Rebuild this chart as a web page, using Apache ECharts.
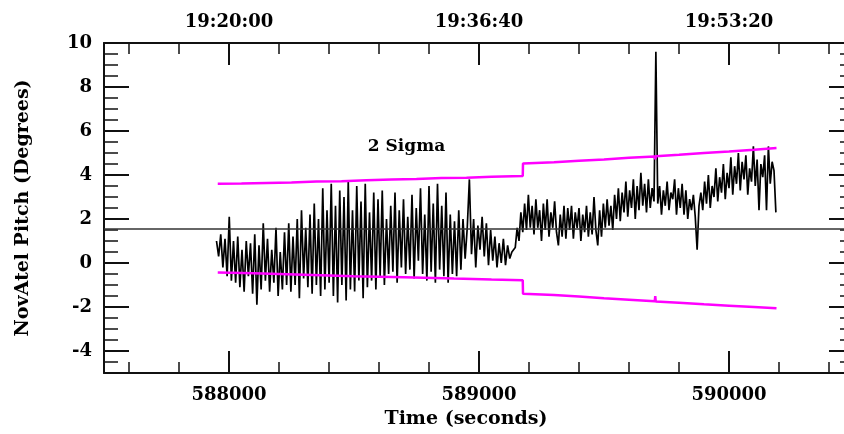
<!DOCTYPE html>
<html>
<head>
<meta charset="utf-8">
<style>html,body{margin:0;padding:0;background:#fff}#c{width:844px;height:434px}</style>
<script src="https://cdn.jsdelivr.net/npm/echarts@6/dist/echarts.min.js"></script>
</head>
<body>
<div id="c"></div>
<script>
// ---- data ----
const xMin = 587500, xMax = 590500;
const yMin = -5, yMax = 10;
const bottomTickValues = [588000, 589000, 590000];
const topTickLabels = ['19:20:00', '19:36:40', '19:53:20'];
const yTickValues = [-4, -2, 0, 2, 4, 6, 8, 10];

// pitch, first part: samples every 8.5 s from 587950 s
const pitchAStart = 587950, pitchAStep = 8.5;
const pitchA = [
  1.0, 0.3, 1.3, -0.2, 1.1, -0.6, 2.1, -0.8, 1.0, -0.9,
  1.2, -1.1, 0.6, -1.3, 1.0, -0.6, 0.9, -1.4, 1.3, -1.9,
  0.8, -1.2, 1.8, -0.8, 1.1, -1.3, 0.6, -0.9, 1.6, -1.5,
  0.5, -1.2, 1.4, -1.0, 1.8, -1.3, 1.2, -1.0, 2.0, -1.6,
  2.4, -0.7, 1.6, -1.1, 2.2, -1.4, 2.7, -1.0, 2.0, -1.5,
  3.4, -1.2, 2.4, -0.9, 3.6, -1.5, 2.6, -1.8, 3.3, -1.0,
  3.0, -1.7, 3.7, -1.2, 2.4, -1.3, 3.5, -0.8, 2.8, -1.6,
  3.6, -1.1, 2.3, -0.8, 3.2, -1.2, 2.9, -0.6, 3.3, -1.0,
  2.0, -0.5, 2.6, -0.4, 3.2, -0.9, 2.4, -0.2, 2.9, -0.5,
  2.1, -0.3, 3.1, -0.7, 2.5, 0.1, 3.4, -0.5, 2.2, -0.8,
  3.5, -0.4, 2.7, -0.9, 3.6, -0.3, 2.6, -0.6, 3.2, -0.9,
  2.2, -0.5, 1.9, -0.6, 2.4, -0.3, 2.0, 0.2, 1.6, 3.8,
  0.4, 2.0, -0.2, 1.7, 0.6, 2.1, 0.3, 1.8, -0.1, 1.5,
  0.1, 1.2, -0.2, 0.9, 0.0, 1.1, -0.1, 0.8, 0.2, 0.5
];
// pitch, second part: samples every 7.5 s from 589145 s
const pitchBStart = 589145, pitchBStep = 7.5;
const pitchB = [
  0.7, 1.6, 1.0, 2.3, 1.4, 2.7, 1.5, 3.1, 1.6, 2.6,
  1.3, 2.9, 1.6, 2.4, 1.0, 2.7, 1.5, 2.9, 1.2, 2.3,
  1.6, 2.8, 1.4, 0.8, 2.2, 1.2, 2.6, 1.1, 2.5, 1.5,
  2.6, 1.1, 2.3, 1.6, 2.5, 1.0, 2.2, 1.4, 2.6, 1.2,
  2.3, 1.3, 3.0, 1.5, 0.8, 2.4, 1.2, 2.7, 1.6, 2.9,
  1.7, 2.6, 1.5, 3.1, 2.0, 3.4, 1.9, 3.2, 2.3, 3.7,
  2.1, 3.3, 2.5, 3.8, 2.0, 3.5, 2.4, 4.1, 2.6, 3.6,
  2.3, 3.8, 2.5, 3.4, 2.8, 9.6, 2.7, 3.5, 2.2, 3.3,
  2.6, 3.7, 2.4, 3.2, 2.9, 3.8, 2.2, 3.4, 2.5, 3.6,
  2.2, 3.3, 2.0, 2.9, 2.4, 3.1, 2.1, 0.6, 2.6, 3.2,
  2.4, 3.7, 2.7, 4.0, 2.5, 3.5, 3.0, 4.3, 2.8, 3.9,
  3.2, 4.5, 2.9, 4.1, 3.4, 4.8, 3.1, 4.4, 3.6, 5.0,
  3.3, 4.6, 3.8, 4.9, 3.1, 4.3, 3.7, 5.3, 3.5, 4.7,
  2.4, 4.5, 3.9, 4.9, 2.4, 5.3, 3.6, 4.6, 4.2, 2.3
];

// 2-sigma bounds (time, value)
const upperBefore = [[587955,3.60],[588050,3.61],[588150,3.64],[588250,3.66],[588350,3.70],[588450,3.72],[588550,3.76],[588650,3.79],[588750,3.82],[588850,3.86],[588950,3.88],[589050,3.92],[589175,3.95]];
const upperAfter  = [[589176,4.52],[589300,4.58],[589400,4.65],[589500,4.71],[589600,4.78],[589703,4.84],[589705,4.72],[589707,4.85],[589800,4.92],[589900,5.00],[590000,5.07],[590100,5.15],[590190,5.23]];
const lowerBefore = [[587955,-0.43],[588100,-0.47],[588300,-0.53],[588500,-0.60],[588700,-0.65],[588900,-0.71],[589050,-0.75],[589175,-0.78]];
const lowerAfter  = [[589176,-1.40],[589300,-1.46],[589400,-1.52],[589500,-1.60],[589600,-1.67],[589703,-1.74],[589705,-1.50],[589707,-1.75],[589800,-1.81],[589900,-1.88],[590000,-1.94],[590100,-2.00],[590190,-2.06]];

const meanLevel = 1.56;
const annotationText = '2 Sigma';
const annotationAt = [588710, 5.3];

// ---- chart ----
const pitchData = pitchA.map((v, i) => [pitchAStart + i * pitchAStep, v])
  .concat(pitchB.map((v, i) => [pitchBStart + i * pitchBStep, v]));
const upperData = upperBefore.concat(upperAfter);
const lowerData = lowerBefore.concat(lowerAfter);

const xMinor = []; for (let v = 587600; v <= xMax; v += 200) xMinor.push(v);
const yMinor = []; for (let v = yMin; v <= yMax; v += 0.5) yMinor.push(v);

const FONT = 'DejaVu Serif';
const AX = '#111';
const labelStyle = { fontFamily: FONT, fontWeight: 'bold', fontSize: 18, color: '#000' };

function xAx(pos, major, extra) {
  return Object.assign({
    type: 'value', position: pos, min: xMin, max: xMax, gridIndex: 0,
    axisLine: { show: major, onZero: false, lineStyle: { color: AX, width: 2 } },
    axisTick: { show: true, inside: true, customValues: major ? bottomTickValues : xMinor,
      length: major ? 22 : 11, lineStyle: { color: AX, width: major ? 2 : 1.5 } },
    axisLabel: { show: false },
    splitLine: { show: false }
  }, extra || {});
}
function yAx(pos, major, extra) {
  return Object.assign({
    type: 'value', position: pos, min: yMin, max: yMax, gridIndex: 0,
    axisLine: { show: major, onZero: false, lineStyle: { color: AX, width: 2 } },
    axisTick: { show: true, inside: true, customValues: major ? yTickValues : yMinor,
      length: major ? 25 : 14, lineStyle: { color: AX, width: major ? 2 : 1.5 } },
    axisLabel: { show: false },
    splitLine: { show: false }
  }, extra || {});
}

const chart = echarts.init(document.getElementById('c'), null, { renderer: 'canvas' });
chart.setOption({
  animation: false,
  backgroundColor: '#fff',
  grid: { left: 104, right: -10, top: 43, bottom: 61, containLabel: false, outerBoundsMode: 'none' },
  xAxis: [
    xAx('bottom', true, {
      axisLabel: Object.assign({ show: true, margin: 13, customValues: bottomTickValues,
        formatter: v => String(v) }, labelStyle),
      name: 'Time (seconds)', nameLocation: 'middle', nameGap: 37,
      nameTextStyle: { fontFamily: FONT, fontWeight: 'bold', fontSize: 19, color: '#000', padding: [0, 26, 0, 0] }
    }),
    xAx('bottom', false),
    xAx('top', true, {
      axisLabel: Object.assign({ show: true, margin: 12, customValues: bottomTickValues,
        formatter: v => topTickLabels[bottomTickValues.indexOf(v)] || '' }, labelStyle)
    }),
    xAx('top', false)
  ],
  yAxis: [
    yAx('left', true, {
      axisLabel: Object.assign({ show: true, margin: 12, customValues: yTickValues,
        formatter: v => String(v) }, labelStyle),
      name: 'NovAtel Pitch (Degrees)', nameLocation: 'middle', nameGap: 71, nameRotate: 90,
      nameTextStyle: { fontFamily: FONT, fontWeight: 'bold', fontSize: 19, color: '#000' }
    }),
    yAx('left', false),
    yAx('right', true),
    yAx('right', false)
  ],
  series: [
    {
      name: 'Pitch', type: 'line', xAxisIndex: 0, yAxisIndex: 0, data: pitchData,
      showSymbol: false, symbol: 'none', lineStyle: { color: '#000', width: 1.7 }, z: 2,
      markLine: {
        silent: true, symbol: ['none', 'none'], label: { show: false },
        lineStyle: { color: '#333', width: 1.5, type: 'solid' },
        data: [{ yAxis: meanLevel }]
      }
    },
    { name: 'Upper', type: 'line', data: upperData, showSymbol: false, symbol: 'none',
      lineStyle: { color: '#ff00ff', width: 2.5 }, z: 3 },
    { name: 'Lower', type: 'line', data: lowerData, showSymbol: false, symbol: 'none',
      lineStyle: { color: '#ff00ff', width: 2.5 }, z: 3 }
  ]
});

const p = chart.convertToPixel({ xAxisIndex: 0, yAxisIndex: 0 }, annotationAt);
chart.setOption({
  graphic: [{
    type: 'text', x: p[0], y: p[1],
    style: { text: annotationText, fontFamily: FONT, fontWeight: 'bold', fontSize: 17,
      fill: '#000', align: 'center', verticalAlign: 'middle' }
  }]
});
</script>
</body>
</html>
